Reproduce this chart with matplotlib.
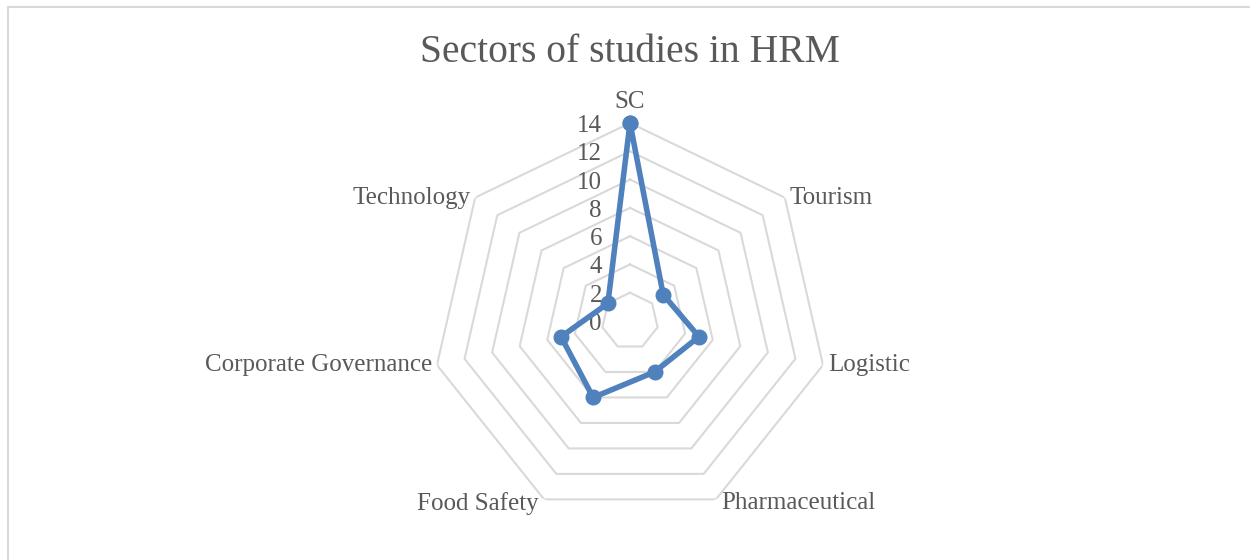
import numpy as np
import matplotlib
matplotlib.use("Agg")
import matplotlib.pyplot as plt
from matplotlib.lines import Line2D

# data
categories = ["SC", "Tourism", "Logistic", "Pharmaceutical", "Food Safety",
              "Corporate Governance", "Technology"]
values = [14, 3, 5, 4, 6, 5, 2]
ring_ticks = [0, 2, 4, 6, 8, 10, 12, 14]

FONT = ["Liberation Serif", "DejaVu Serif"]
TXT = "#595959"
GRID = "#D9D9D9"
BLUE = "#4F81BD"

W, H = 1250, 560
fig = plt.figure(figsize=(W / 100, H / 100), dpi=100)

# polar axes sized so that center ~ (630, 321) px and r=14 -> 198 px
cx, cy, R = 630, 321, 198
ax = fig.add_axes([(cx - R) / W, (H - cy - R) / H, 2 * R / W, 2 * R / H],
                  projection="polar")
ax.set_theta_zero_location("N")
ax.set_theta_direction(-1)
ax.set_ylim(0, 14)
ax.grid(False)
ax.set_xticks([])
ax.set_yticks([])
ax.spines["polar"].set_visible(False)
ax.patch.set_alpha(0)

n = len(categories)
theta = np.linspace(0, 2 * np.pi, n, endpoint=False)
theta_c = np.append(theta, theta[0])

# heptagon grid rings
for v in ring_ticks[1:]:
    ax.plot(theta_c, [v] * (n + 1), color=GRID, lw=1.5, zorder=1)

# value axis labels
for v in ring_ticks:
    ax.annotate(str(v), xy=(0, v), xytext=(-28, -3), textcoords="offset pixels",
                ha="right", va="center", fontsize=18, color=TXT, family=FONT,
                annotation_clip=False)

# data series
vals_c = values + values[:1]
ax.plot(theta_c, vals_c, color=BLUE, lw=4, marker="o", markersize=10.5,
        zorder=3, clip_on=False)

# category labels
for t, name in zip(theta, categories):
    s, c = np.sin(t), np.cos(t)
    if abs(s) < 1e-6:
        ha, off = "center", (0, 21)
    elif s > 0:
        ha, off = "left", (5, 0)
    else:
        ha, off = "right", (-5, 0)
    if c < -0.5:
        off = (off[0], -4)
    ax.annotate(name, xy=(t, 14), xytext=off, textcoords="offset pixels",
                ha=ha, va="center", fontsize=18, color=TXT, family=FONT,
                annotation_clip=False)

fig.text(cx / W, 1 - 52 / H, "Sectors of studies in HRM", ha="center",
         va="center", fontsize=28.5, color=TXT, family=FONT)

# chart area border (top and left visible)
fig.add_artist(Line2D([8 / W, 8 / W], [0, 1 - 7 / H], color=GRID, lw=1.5,
                      transform=fig.transFigure))
fig.add_artist(Line2D([8 / W, 1], [1 - 7 / H, 1 - 7 / H], color=GRID, lw=1.5,
                      transform=fig.transFigure))

fig.savefig("out.png", dpi=100, facecolor="white")
